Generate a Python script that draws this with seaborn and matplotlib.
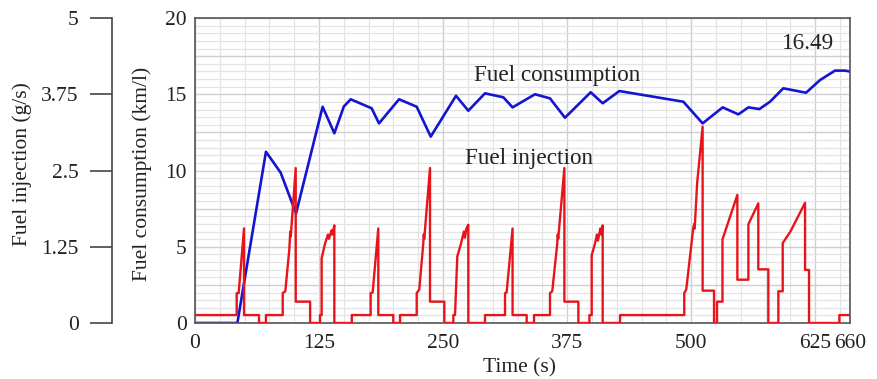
import matplotlib
matplotlib.use("Agg")
import matplotlib.pyplot as plt
import matplotlib.ticker as mticker
import numpy as np
import pandas as pd
import seaborn as sns

# Fuel consumption (km/l) over the drive cycle
t_cons = [0, 42.7, 71.5, 86.3, 101.8, 128.6, 140.4, 150, 156.9, 178, 185.4,
          205.6, 223.4, 237.5, 263, 275.4, 292.2, 310.7, 320, 342.6, 357.7,
          372.8, 398.7, 410.8, 427.6, 492.1, 511.5, 531.7, 547.5, 557.6,
          568.7, 579.4, 592.8, 615.7, 629.8, 644.9, 655, 660]
consumption = [0, 0, 11.23, 9.86, 7.19, 14.18, 12.44, 14.2, 14.67, 14.08, 13.09,
               14.67, 14.18, 12.22, 14.9, 13.92, 15.06, 14.8, 14.14, 15.0, 14.73,
               13.46, 15.13, 14.41, 15.21, 14.51, 13.09, 14.14, 13.68, 14.14,
               14.03, 14.51, 15.39, 15.1, 15.93, 16.55, 16.55, 16.49]

# Fuel injection rate (g/s), stepwise
t_inj = [0, 42, 42, 44, 49.4, 49.4, 64.5, 64.5, 71.5, 71.5, 88.4, 88.4, 91, 95,
         96, 96.5, 101.5, 101.5, 116, 116, 126, 126, 127.6, 127.6, 131, 134, 135,
         137.7, 138.5, 140.4, 140.4, 158, 158, 177, 177, 179, 184.7, 184.7, 199.8,
         199.8, 206.6, 206.6, 223.4, 223.4, 226, 230, 230.5, 231, 236.8, 236.8,
         251.2, 251.2, 260.3, 260.3, 262, 264.3, 268, 271, 272, 273.5, 275.4,
         275.4, 292.2, 292.2, 312.4, 312.4, 314, 320, 320, 334.2, 334.2, 341.6,
         341.6, 357.7, 357.7, 360, 365, 365.5, 366, 372.2, 372.2, 386.3, 386.3,
         397.4, 397.4, 399.7, 399.7, 403, 405, 406, 408.5, 409.5, 410.8, 410.8,
         428.3, 428.3, 493, 493, 495, 502, 503, 503.5, 506, 511.5, 511.5, 523,
         523, 526, 526, 531.5, 531.5, 546.5, 546.5, 557.6, 557.6, 567.6, 567.6,
         577.7, 577.7, 587.8, 587.8, 592.2, 592.2, 600, 614.7, 614.7, 618.7,
         618.7, 649.3, 649.3, 660]
injection = [0.13, 0.13, 0.49, 0.49, 1.55, 0.13, 0.13, 0, 0, 0.13, 0.13, 0.49, 0.52, 1.2,
             1.5, 1.42, 2.54, 0.35, 0.35, 0, 0, 0.13, 0.13, 1.06, 1.3, 1.45, 1.38,
             1.52, 1.45, 1.60, 0, 0, 0.13, 0.13, 0.49, 0.5, 1.55, 0.13, 0.13,
             0, 0, 0.13, 0.13, 0.49, 0.55, 1.3, 1.45, 1.38, 2.54, 0.35,
             0.35, 0, 0, 0.13, 0.13, 1.09, 1.3, 1.5, 1.4, 1.55, 1.61,
             0, 0, 0.13, 0.13, 0.49, 0.5, 1.55, 0.13, 0.13, 0, 0,
             0.13, 0.13, 0.49, 0.52, 1.3, 1.45, 1.38, 2.54, 0.35, 0.35, 0,
             0, 0.13, 0.13, 1.11, 1.3, 1.45, 1.35, 1.55, 1.45, 1.60, 0,
             0, 0.13, 0.13, 0.49, 0.55, 1.55, 1.62, 1.55, 2.3, 3.22, 0.53, 0.53,
             0, 0, 0.35, 0.35, 1.37, 2.10, 0.71, 0.71, 1.62, 1.96, 0.88,
             0.88, 0, 0, 0.52, 0.52, 1.31, 1.5, 1.97, 0.87, 0.87,
             0, 0, 0.13, 0.13]

x_ticks = [0, 125, 250, 375, 500, 625, 660]
cons_ticks = [0, 5, 10, 15, 20]
inj_ticks = [0, 1.25, 2.5, 3.75, 5]
inj_labels = ["0", "1.25", "2.5", "3.75", "5"]
final_value = consumption[-1]

sns.set_style("white")
plt.rcParams["font.family"] = ["Liberation Serif", "DejaVu Serif"]
FS = 15.5
FS_NOTE = 16.7
TXT = "#222222"

fig = plt.figure(figsize=(8.77, 3.79), dpi=100)
ax = fig.add_axes([195 / 877, 1 - 323 / 379, 655 / 877, 305 / 379])
ax2 = ax.twinx()

cons_df = pd.DataFrame({"t": t_cons, "v": consumption})
inj_df = pd.DataFrame({"t": t_inj, "v": injection})

sns.lineplot(data=cons_df, x="t", y="v", ax=ax, color="#1414d2", lw=1.9,
             sort=False, estimator=None)
sns.lineplot(data=inj_df, x="t", y="v", ax=ax2, color="#e8141c", lw=1.7,
             sort=False, estimator=None)

# main (consumption) axis
ax.set_xlim(0, 660)
ax.set_ylim(0, 20)
ax.xaxis.set_major_locator(mticker.FixedLocator(x_ticks))
ax.xaxis.set_minor_locator(mticker.MultipleLocator(25))
ax.yaxis.set_major_locator(mticker.MultipleLocator(2.5))
ax.yaxis.set_minor_locator(mticker.MultipleLocator(0.5))
ax.yaxis.set_major_formatter(mticker.FuncFormatter(
    lambda v, p: f"{v:g}" if any(abs(v - c) < 1e-6 for c in cons_ticks) else ""))
ax.grid(which="major", color="#cfcfcf", lw=1.0)
ax.grid(which="minor", color="#e4e4e4", lw=0.9)
ax.set_axisbelow(True)
ax.tick_params(which="both", length=0, labelsize=FS, colors=TXT)
ax.tick_params(axis="x", pad=8)
ax.tick_params(axis="y", pad=6)
for s in ax.spines.values():
    s.set_color("#555555")
    s.set_linewidth(1.2)

ax.set_xlabel("Time (s)", fontsize=FS, color=TXT)
ax.xaxis.set_label_coords(0.496, -0.115)
ax.set_ylabel("Fuel consumption (km/l)", fontsize=FS, color=TXT)
ax.yaxis.set_label_coords(-0.066, 0.49)

# offset injection axis on the far left
ax2.set_ylim(0, 5)
ax2.set_yticks(inj_ticks)
ax2.set_yticklabels(inj_labels)
ax2.yaxis.set_ticks_position("left")
ax2.yaxis.set_label_position("left")
ax2.spines["left"].set_position(("outward", 83 * 0.72))
ax2.spines["left"].set_color("#444444")
ax2.spines["left"].set_linewidth(1.2)
for side in ("right", "top", "bottom"):
    ax2.spines[side].set_visible(False)
ax2.tick_params(axis="y", which="major", length=16, width=1.2, color="#444444",
                labelsize=FS, labelcolor=TXT, pad=8)
ax2.set_xlabel("")
ax2.set_ylabel("Fuel injection (g/s)", fontsize=FS, color=TXT)
ax2.yaxis.set_label_coords(-0.249, 0.52)

ax.text(281, 16.25, "Fuel consumption", fontsize=FS_NOTE, color=TXT, ha="left", va="center")
ax.text(272, 10.8, "Fuel injection", fontsize=FS_NOTE, color=TXT, ha="left", va="center")
ax.text(644, 18.3, f"{final_value:.2f}", fontsize=FS_NOTE, color=TXT, ha="right",
        va="center")

fig.savefig("out.png", dpi=100)
